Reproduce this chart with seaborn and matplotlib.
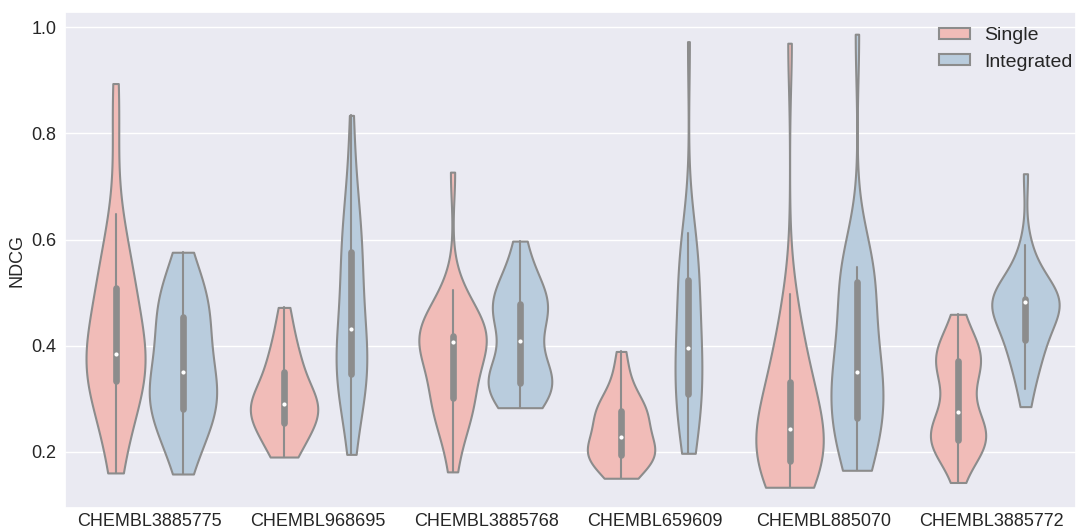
import numpy as np
import pandas as pd
import matplotlib
matplotlib.use("Agg")
import matplotlib.pyplot as plt
import seaborn as sns

targets = ["CHEMBL3885775", "CHEMBL968695", "CHEMBL3885768",
           "CHEMBL659609", "CHEMBL885070", "CHEMBL3885772"]
methods = ["Single", "Integrated"]

single_3885775 = [0.160, 0.195, 0.228, 0.258, 0.282, 0.302, 0.318, 0.330, 0.338, 0.346,
                  0.353, 0.360, 0.366, 0.372, 0.378, 0.384, 0.398, 0.415, 0.432, 0.450,
                  0.468, 0.485, 0.502, 0.516, 0.532, 0.550, 0.572, 0.600, 0.648, 0.800,
                  0.894]
integrated_3885775 = [0.158, 0.190, 0.212, 0.230, 0.245, 0.258, 0.268, 0.278, 0.290, 0.298,
                      0.306, 0.314, 0.322, 0.332, 0.344, 0.358, 0.372, 0.386, 0.400, 0.414,
                      0.428, 0.446, 0.457, 0.468, 0.480, 0.493, 0.507, 0.522, 0.545, 0.576]
single_968695 = [0.190, 0.198, 0.210, 0.225, 0.238, 0.248, 0.255, 0.262, 0.270, 0.276,
                 0.282, 0.287, 0.290, 0.294, 0.300, 0.310, 0.322, 0.335, 0.350, 0.362,
                 0.375, 0.390, 0.410, 0.440, 0.472]
integrated_968695 = [0.195, 0.240, 0.275, 0.300, 0.318, 0.330, 0.338, 0.345, 0.352, 0.360,
                     0.370, 0.380, 0.392, 0.405, 0.420, 0.444, 0.462, 0.480, 0.500, 0.520,
                     0.540, 0.565, 0.580, 0.595, 0.612, 0.630, 0.655, 0.690, 0.745, 0.834]
single_3885768 = [0.162, 0.215, 0.245, 0.262, 0.275, 0.285, 0.292, 0.300, 0.308, 0.322,
                  0.338, 0.355, 0.372, 0.390, 0.402, 0.412, 0.413, 0.414, 0.415, 0.415,
                  0.416, 0.416, 0.420, 0.432, 0.445, 0.458, 0.472, 0.488, 0.504, 0.727]
integrated_3885768 = [0.283, 0.298, 0.310, 0.318, 0.323, 0.327, 0.330, 0.334, 0.338, 0.345,
                      0.360, 0.395, 0.421, 0.448, 0.458, 0.465, 0.471, 0.477, 0.485, 0.493,
                      0.505, 0.525, 0.555, 0.597]
single_659609 = [0.150, 0.162, 0.172, 0.180, 0.186, 0.190, 0.194, 0.198, 0.202, 0.206,
                 0.211, 0.218, 0.228, 0.240, 0.252, 0.262, 0.268, 0.273, 0.277, 0.284,
                 0.292, 0.305, 0.325, 0.352, 0.389]
integrated_659609 = [0.197, 0.215, 0.232, 0.248, 0.263, 0.278, 0.292, 0.305, 0.318, 0.330,
                     0.342, 0.354, 0.366, 0.378, 0.389, 0.401, 0.418, 0.436, 0.454, 0.472,
                     0.490, 0.508, 0.529, 0.545, 0.560, 0.574, 0.588, 0.601, 0.613, 0.973]
single_885070 = [0.133, 0.140, 0.148, 0.155, 0.162, 0.170, 0.176, 0.180, 0.188, 0.195,
                 0.203, 0.212, 0.222, 0.232, 0.238, 0.246, 0.256, 0.268, 0.282, 0.298,
                 0.312, 0.326, 0.333, 0.355, 0.375, 0.398, 0.425, 0.455, 0.498, 0.970]
integrated_885070 = [0.165, 0.180, 0.195, 0.210, 0.225, 0.240, 0.252, 0.261, 0.273, 0.285,
                     0.298, 0.310, 0.322, 0.335, 0.344, 0.356, 0.370, 0.385, 0.400, 0.418,
                     0.440, 0.505, 0.525, 0.532, 0.538, 0.542, 0.545, 0.547, 0.549, 0.987]
single_3885772 = [0.142, 0.185, 0.200, 0.207, 0.212, 0.216, 0.219, 0.222, 0.226, 0.230,
                  0.235, 0.241, 0.248, 0.256, 0.266, 0.284, 0.300, 0.332, 0.350, 0.357,
                  0.362, 0.368, 0.373, 0.378, 0.384, 0.390, 0.397, 0.408, 0.428, 0.459]
integrated_3885772 = [0.285, 0.318, 0.342, 0.360, 0.374, 0.386, 0.397, 0.408, 0.416, 0.426,
                      0.437, 0.447, 0.457, 0.466, 0.479, 0.484, 0.485, 0.485, 0.486, 0.486,
                      0.487, 0.487, 0.488, 0.497, 0.508, 0.522, 0.540, 0.562, 0.589, 0.724]

single_lists = [single_3885775, single_968695, single_3885768,
                single_659609, single_885070, single_3885772]
integrated_lists = [integrated_3885775, integrated_968695, integrated_3885768,
                    integrated_659609, integrated_885070, integrated_3885772]

rows = []
for t, s_vals, i_vals in zip(targets, single_lists, integrated_lists):
    rows += [(t, "Single", v) for v in s_vals]
    rows += [(t, "Integrated", v) for v in i_vals]
df = pd.DataFrame(rows, columns=["target", "method", "NDCG"])

sns.set_theme(style="darkgrid")
plt.rcParams["font.family"] = ["Liberation Sans", "DejaVu Sans"]
plt.rcParams["lines.solid_capstyle"] = "round"

fig, ax = plt.subplots(figsize=(10.76, 5.32), dpi=100)
fig.subplots_adjust(left=0.0604, right=1.0, top=0.9769, bottom=0.0445)

# violins scaled by area within each target (pairs share one scale)
for k, t in enumerate(targets):
    sns.violinplot(data=df[df["target"] == t], x="target", y="NDCG", hue="method",
                   order=targets, hue_order=methods, palette="Pastel1",
                   cut=0, inner="box", density_norm="area", common_norm=True,
                   linewidth=1.5, linecolor="#8c8c8c",
                   inner_kws=dict(box_width=4.8, whis_width=1.5, marker="o"),
                   legend=("auto" if k == 0 else False), ax=ax)

for line in ax.lines:
    if line.get_marker() == "o":
        line.set_markersize(3.0)
        line.set_markeredgewidth(0.0)
        line.set_markerfacecolor("white")

ax.set_xlabel("")
ax.set_ylabel("NDCG", fontsize=13)
ax.tick_params(axis="x", labelsize=13, length=0, pad=3.6)
ax.tick_params(axis="y", labelsize=13, length=0, pad=6)
ax.set_ylim(0.0933, 1.0283)
sns.move_legend(ax, "upper right", bbox_to_anchor=(1.004, 0.986), borderaxespad=0,
                title=None, frameon=False, fontsize=14, handlelength=1.6,
                handleheight=0.5, handletextpad=0.7)
fig.savefig("out.png", dpi=100)
